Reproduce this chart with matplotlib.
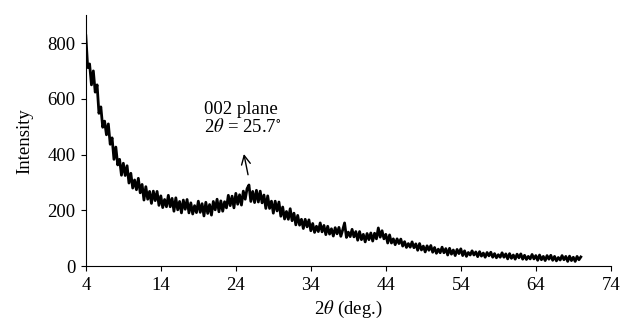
import matplotlib
matplotlib.use("Agg")
import matplotlib.pyplot as plt
import numpy as np

plt.rcParams['font.family'] = ['Liberation Serif', 'DejaVu Serif']
plt.rcParams['mathtext.fontset'] = 'stix'

# XRD scan: 4 to 70 deg, step 0.25 deg
scan_start = 4.0
scan_stop = 70.0
intensity = [
    826, 712, 725, 650, 700, 624, 650, 548, 571, 498, 520, 471, 510, 437, 460, 383,
    427, 363, 383, 326, 369, 325, 360, 298, 333, 280, 309, 274, 315, 263, 293, 237,
    285, 240, 268, 225, 269, 235, 268, 218, 252, 210, 239, 213, 254, 213, 243, 197,
    245, 202, 232, 191, 237, 204, 239, 191, 227, 187, 217, 192, 233, 193, 224, 180,
    229, 189, 221, 183, 232, 202, 240, 195, 234, 197, 231, 209, 254, 217, 251, 209,
    261, 222, 256, 219, 269, 240, 278, 291, 232, 268, 228, 272, 230, 269, 227, 255,
    207, 252, 207, 233, 190, 233, 198, 230, 179, 212, 169, 196, 168, 206, 163, 190,
    148, 182, 147, 168, 135, 168, 141, 166, 127, 153, 121, 143, 124, 155, 123, 146,
    113, 143, 115, 134, 108, 138, 116, 139, 107, 130, 155, 103, 122, 106, 132, 105,
    124, 93, 124, 95, 114, 87, 117, 95, 119, 90, 118, 98, 137, 104, 127, 98,
    114, 83, 112, 83, 98, 77, 98, 81, 97, 72, 88, 67, 81, 68, 87, 66,
    80, 57, 81, 58, 72, 51, 73, 57, 74, 50, 67, 46, 61, 48, 68, 48,
    63, 40, 64, 43, 58, 38, 60, 45, 62, 38, 55, 35, 49, 40, 55, 40,
    51, 34, 52, 36, 47, 32, 49, 37, 50, 32, 45, 30, 41, 32, 48, 32,
    44, 26, 45, 28, 40, 25, 43, 30, 44, 25, 39, 24, 35, 26, 42, 26,
    38, 21, 40, 23, 35, 20, 38, 25, 39, 21, 35, 19, 31, 22, 38, 23,
    35, 17, 36, 20, 32, 17, 35, 23, 33,
]
two_theta = np.linspace(scan_start, scan_stop, len(intensity))

x_ticks = [4, 14, 24, 34, 44, 54, 64, 74]
y_ticks = [0, 200, 400, 600, 800]

fig = plt.figure(figsize=(6.22, 3.29), dpi=100)
ax = fig.add_axes([0.138, 0.191, 0.844, 0.763])

ax.plot(two_theta, intensity, color='black', linewidth=2.0, solid_joinstyle='round')

ax.set_xlim(4, 74)
ax.set_ylim(0, 900)
ax.set_xticks(x_ticks)
ax.set_yticks(y_ticks)
ax.tick_params(labelsize=13.5, length=3.5, width=0.8, direction='out', pad=4)
ax.spines['top'].set_visible(False)
ax.spines['right'].set_visible(False)
ax.set_xlabel(r'2$\theta$ (deg.)', fontsize=13.5, labelpad=4)
ax.set_ylabel('Intensity', fontsize=13.5, labelpad=10)

# пик графита
ax.annotate('', xy=(25.0, 412), xytext=(25.7, 318),
            arrowprops=dict(arrowstyle='->', color='black', lw=1.0,
                            mutation_scale=16))
ax.text(19.7, 530, '002 plane\n2$\\theta$ = 25.7$^{\\circ}$', fontsize=13.5,
        ha='left', va='center', linespacing=1.0)

fig.savefig('out.png', dpi=100)
